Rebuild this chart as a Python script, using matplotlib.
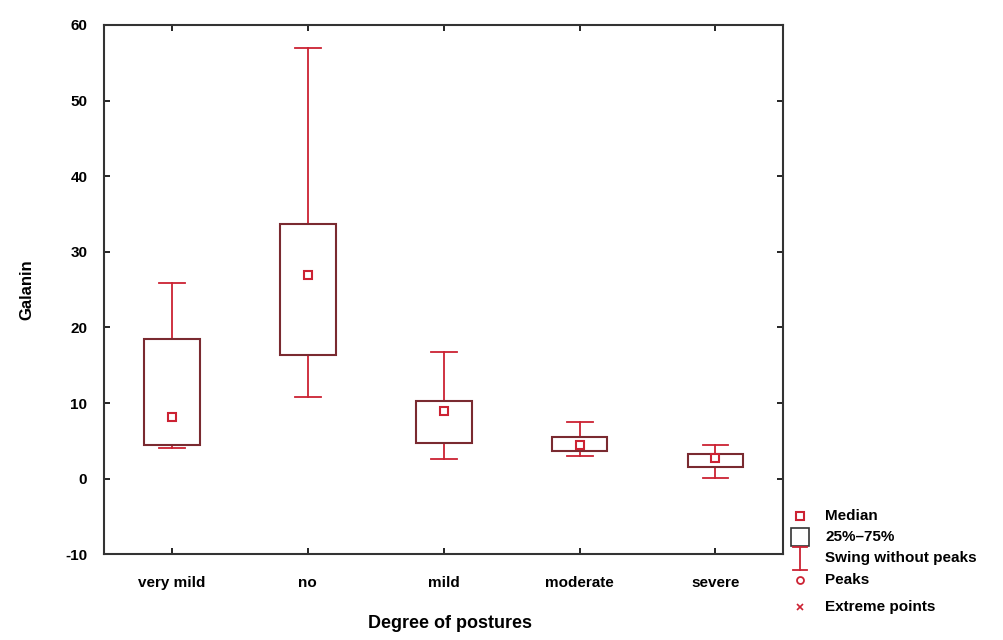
import matplotlib.pyplot as plt
from matplotlib.patches import Rectangle

plt.rcParams["font.family"] = ["Liberation Sans", "DejaVu Sans"]
plt.rcParams["axes.unicode_minus"] = False

# data
categories = ["very mild", "no", "mild", "moderate", "severe"]
whisker_low = [4.1, 10.8, 2.6, 3.0, 0.05]
q1 = [4.45, 16.3, 4.7, 3.7, 1.5]
median = [8.2, 26.9, 8.9, 4.45, 2.7]
q3 = [18.5, 33.7, 10.3, 5.5, 3.2]
whisker_high = [25.9, 56.9, 16.8, 7.45, 4.45]

legend_labels = ["Median", "25%\u201375%", "Swing without peaks", "Peaks", "Extreme points"]

box_color = "#7a2a30"
red = "#cc2233"

fig = plt.figure(figsize=(10.04, 6.4), dpi=100)
ax = fig.add_axes([0.1036, 0.134, 0.6767, 0.827])

box_w = 0.41
cap_w = 0.19
for i in range(len(categories)):
    # whiskers
    ax.plot([i, i], [q3[i], whisker_high[i]], color=red, lw=1.3, zorder=2)
    ax.plot([i, i], [whisker_low[i], q1[i]], color=red, lw=1.3, zorder=2)
    ax.plot([i - cap_w / 2, i + cap_w / 2], [whisker_high[i]] * 2, color=red, lw=1.3)
    ax.plot([i - cap_w / 2, i + cap_w / 2], [whisker_low[i]] * 2, color=red, lw=1.3)
    # box
    ax.add_patch(Rectangle((i - box_w / 2, q1[i]), box_w, q3[i] - q1[i],
                           fill=False, edgecolor=box_color, lw=1.5, zorder=3))
    # median marker
    ax.plot(i, median[i], marker="s", ms=6, mfc="white", mec=red, mew=1.5, zorder=4)

ax.set_xlim(-0.5, len(categories) - 0.5)
ax.set_ylim(-10, 60)
ax.set_xticks(range(len(categories)))
ax.set_xticklabels(categories, fontsize=11, fontweight="bold")
ax.set_yticks(range(-10, 61, 10))
ax.tick_params(axis="y", labelsize=11, pad=12)
ax.tick_params(axis="x", pad=16)
for t in ax.get_yticklabels():
    t.set_fontweight("bold")
ax.tick_params(direction="in", top=True, right=True, length=4, width=1.2)
for s in ax.spines.values():
    s.set_linewidth(1.5)
    s.set_color("#333333")

ax.set_ylabel("Galanin", fontsize=12, fontweight="bold", labelpad=22)
fig.text(0.448, 0.018, "Degree of postures", ha="center", fontsize=13, fontweight="bold")

# legend drawn by hand outside the axes
ys = [0.193, 0.161, 0.128, 0.094, 0.052]
mx = 0.797
tx = 0.822
for y, lab in zip(ys, legend_labels):
    fig.text(tx, y, lab, fontsize=11, fontweight="bold", va="center")

tr = fig.transFigure
fig.add_artist(plt.Line2D([mx], [ys[0]], marker="s", ms=6, mfc="white", mec=red, mew=1.5, transform=tr))
fig.add_artist(plt.Line2D([mx], [ys[1]], marker="s", ms=13, mfc="white", mec="#333333", mew=1.2, transform=tr))
fig.add_artist(plt.Line2D([mx, mx], [ys[2] - 0.018, ys[2] + 0.018], color=red, lw=1.3, transform=tr))
fig.add_artist(plt.Line2D([mx - 0.007, mx + 0.007], [ys[2] + 0.018] * 2, color=red, lw=1.3, transform=tr))
fig.add_artist(plt.Line2D([mx - 0.007, mx + 0.007], [ys[2] - 0.018] * 2, color=red, lw=1.3, transform=tr))
fig.add_artist(plt.Line2D([mx], [ys[3]], marker="o", ms=5, mfc="white", mec=red, mew=1.3, transform=tr))
fig.add_artist(plt.Line2D([mx], [ys[4]], marker="x", ms=5, color=red, mew=1.2, transform=tr))

fig.savefig("out.png", dpi=100)
